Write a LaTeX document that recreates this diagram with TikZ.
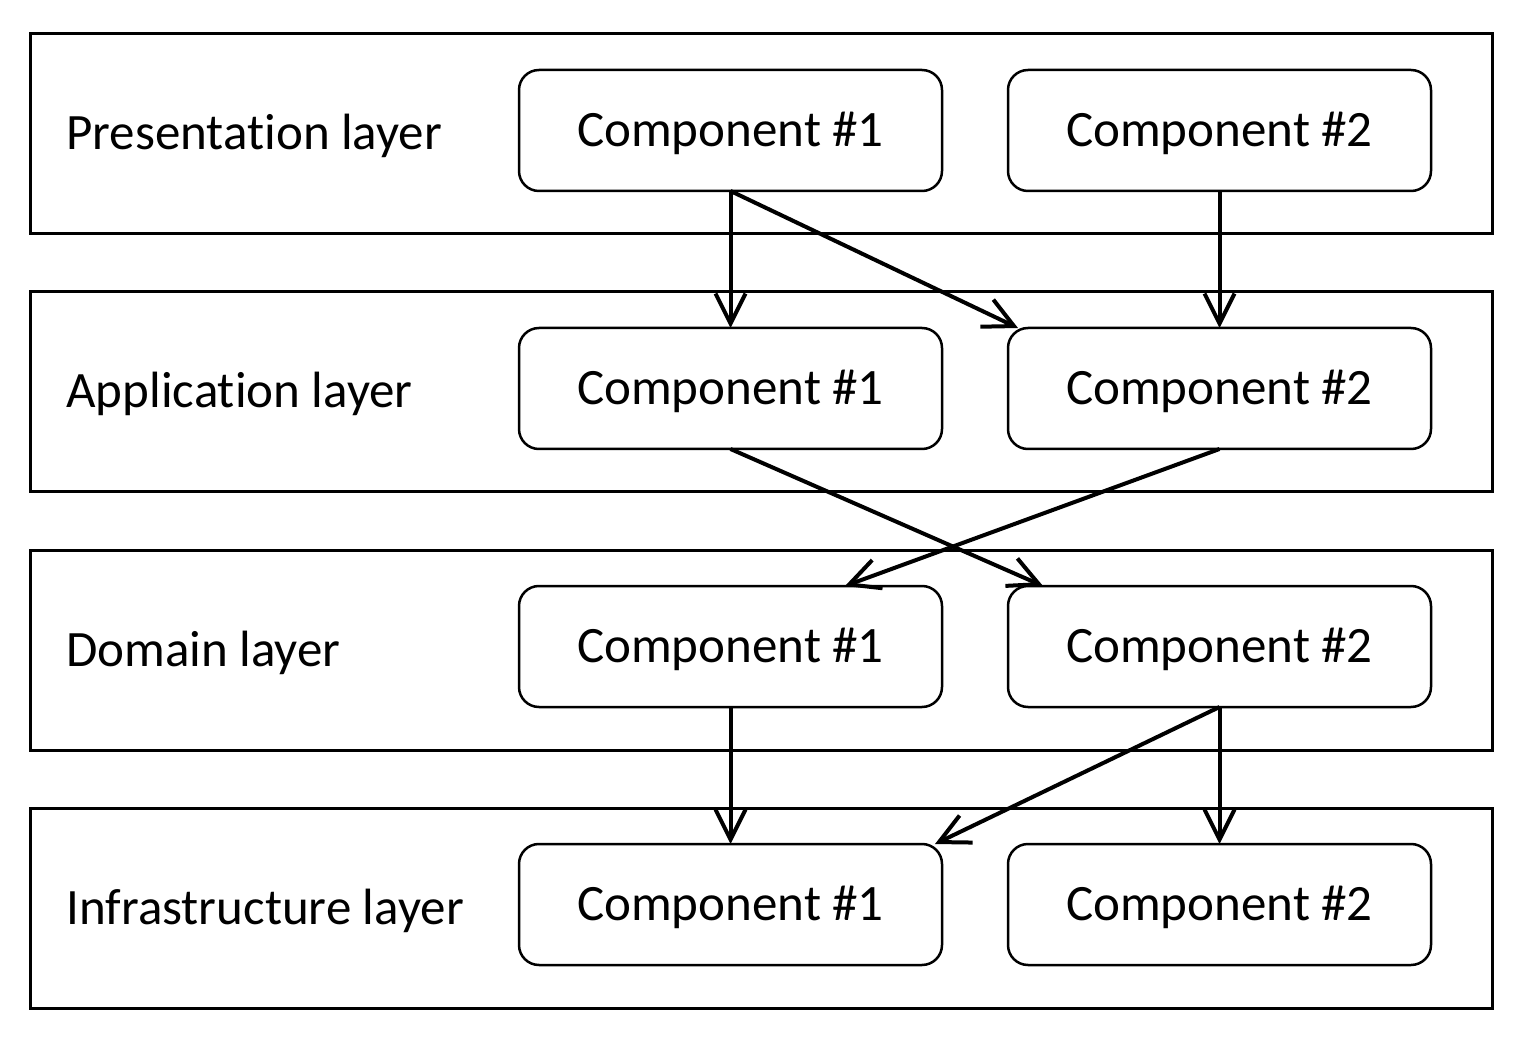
\documentclass[tikz,border=0pt]{standalone}
\usepackage{fontspec}
\setmainfont{Carlito}[Ligatures=NoCommon]
\usetikzlibrary{positioning,calc,arrows.meta}
\begin{document}
\begin{tikzpicture}[layerbox/.style={
                rectangle, draw, line width=1.5pt, outer sep=0pt,
                minimum width=731pt, minimum height=100pt},
            compbox/.style={rectangle, rounded corners=10pt, draw, line width=1.25pt,
                outer sep=0pt, minimum width=211.5pt, minimum height=60.5pt,
                text height=16pt, text depth=0pt},
            lbl/.style={anchor=west, inner sep=0pt, text height=16pt, text depth=0pt},
            uses/.style={-{Straight Barb[length=15pt,width=15pt]}, line width=2pt},
            font=\fontsize{25.5}{30}\selectfont]

            \useasboundingbox (0,0) rectangle (760.5pt,-526.5pt);

            \node [layerbox] (lp) at (380.5pt,-67pt) {};
            \node [compbox,anchor=east] (p2) at ($(lp.east)+(-30.5pt,1.75pt)$) {Component \#2};
            \node [compbox,left=33pt of p2] (p1) {Component \#1};
            \node [lbl] (tp) at ($(lp.west)+(18pt,0)$) {Presentation layer};

            \node [layerbox,below=29pt of lp] (la) {};
            \node [compbox,anchor=east] (a2) at ($(la.east)+(-30.5pt,1.75pt)$) {Component \#2};
            \node [compbox,left=33pt of a2] (a1) {Component \#1};
            \node [lbl] (ta) at ($(la.west)+(18pt,0)$) {Application layer};

            \node [layerbox,below=29pt of la] (ld) {};
            \node [compbox,anchor=east] (d2) at ($(ld.east)+(-30.5pt,1.75pt)$) {Component \#2};
            \node [compbox,left=33pt of d2] (d1) {Component \#1};
            \node [lbl] (td) at ($(ld.west)+(18pt,0)$) {Domain layer};

            \node [layerbox,below=29pt of ld] (li) {};
            \node [compbox,anchor=east] (i2) at ($(li.east)+(-30.5pt,1.75pt)$) {Component \#2};
            \node [compbox,left=33pt of i2] (i1) {Component \#1};
            \node [lbl] (ti) at ($(li.west)+(18pt,0)$) {Infrastructure layer};

            \draw [uses] (p1.south) -- (a1.north);
            \draw [uses] (p1.south) -- ($(a2.north west)+(5pt,0)$);
            \draw [uses] (p2.south) -- (a2.north);
            \draw [uses] (a1.south) -- ($(d2.north west)+(17.5pt,0)$);
            \draw [uses] (a2.south) -- ($(d1.north east)+(-48.5pt,0)$);
            \draw [uses] (d1.south) -- (i1.north);
            \draw [uses] (d2.south) -- ($(i1.north east)+(-3.5pt,0)$);
            \draw [uses] (d2.south) -- (i2.north);
        \end{tikzpicture}
\end{document}
